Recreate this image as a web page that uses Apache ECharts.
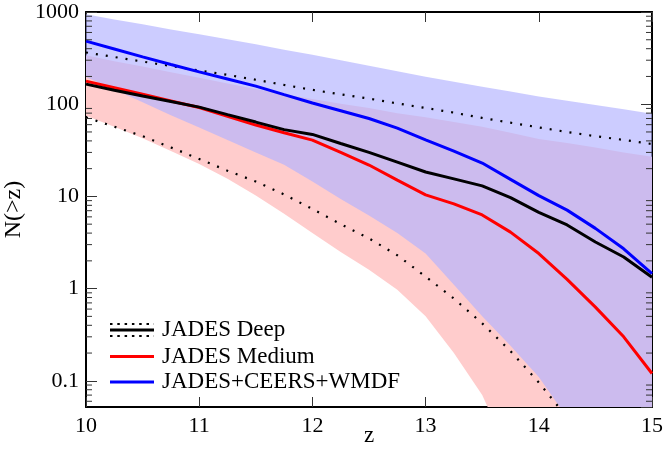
<!DOCTYPE html>
<html><head><meta charset="utf-8">
<script src="https://cdn.jsdelivr.net/npm/echarts@6/dist/echarts.min.js"></script>
<style>html,body{margin:0;padding:0;background:#fff}#c{width:666px;height:450px}</style>
</head><body><div id="c"></div>
<script>
// z grid shared by all curves and bands
const zGrid = [10,10.25,10.5,10.75,11,11.25,11.5,11.75,12,12.25,12.5,12.75,13,13.25,13.5,13.75,14,14.25,14.5,14.75,15];
// JADES Deep (black solid) and its range (black dotted)
const deepMid   = [165,142,123,107,93,77,64,53,47,37.5,30,23.5,18.4,15.5,13,9.7,6.7,4.9,3.2,2.2,1.33];
const deepUpper = [364,325,290,260,232,208,184,162,143,128,115,102,91,81,71,63,56,50,45,41,37];
const deepLower = [72,57,45,34,25.5,19,14.5,10.5,7.3,5.0,3.5,2.3,1.35,0.78,0.42,0.21,0.096,0.04,0.015,0.006,0.002];
// JADES Medium (red) and its band
const medMid = [178,151,128,108.5,92,74,59.4,49,40.8,30,21.9,15,10.4,8.3,6.3,4.1,2.4,1.26,0.63,0.30,0.12];
const medHi  = [340,292,256,222,194,168,146,128,114,101,91,80,72,64,57,49,42,38,34,30,27];
const medLo  = [75,57,42.7,31,22.4,15.5,10.2,6.5,4.0,2.5,1.6,0.97,0.5,0.2,0.07,0.015,0.003,0.002,0.002,0.002,0.002];
// JADES+CEERS+WMDF (blue) and its band
const wideMid = [483,397,326,270,224,188,157,127,103,85,70,55,41,31,23,15.3,10.2,7.1,4.5,2.7,1.45];
const wideHi  = [946,830,736,645,573,505,446,390,343,300,261,228,198,175,155,137,121,109,98,88,79];
const wideLo  = [197,144,105,76,56,41,30,22,14.5,9.4,6.2,4.0,2.4,1.1,0.5,0.24,0.11,0.04,0.015,0.006,0.003];
// axes
const xTicks = [10,11,12,13,14,15];
const yTickValues = [0.1,1,10,100,1000];
const yTickLabels = ['0.1','1','10','100','1000'];
const yMin = 0.052, yMax = 1000;
const minorTickValues = [];
for (let d = -2; d <= 2; d++) for (let m = 2; m <= 9; m++) {
  const v = +(m * Math.pow(10, d)).toPrecision(3);
  if (v >= yMin && v <= yMax) minorTickValues.push(v);
}
const legendNames = ['JADES Deep','JADES Medium','JADES+CEERS+WMDF'];

const pair = (ys) => zGrid.map((z, i) => [z, ys[i]]);
const FONT = '"Liberation Serif", "Times New Roman", serif';

function band(lo, hi, color, z) {
  return {
    type: 'custom', xAxisIndex: 0, yAxisIndex: 0, clip: true, silent: true, z: z,
    data: [[12, 1]],
    renderItem: (params, api) => {
      const pts = [];
      for (let i = 0; i < zGrid.length; i++) pts.push(api.coord([zGrid[i], hi[i]]));
      for (let i = zGrid.length - 1; i >= 0; i--) pts.push(api.coord([zGrid[i], lo[i]]));
      return { type: 'polygon', shape: { points: pts }, style: { fill: color } };
    }
  };
}

const chart = echarts.init(document.getElementById('c'), null, { renderer: 'canvas' });
const option = {
  animation: false,
  backgroundColor: '#fff',
  grid: { left: 86, right: 14, top: 12, bottom: 43, show: false, containLabel: false, outerBoundsMode: 'none' },
  xAxis: [{
    type: 'value', min: 10, max: 15, interval: 1, position: 'bottom',
    name: 'z', nameLocation: 'middle', nameGap: 17, nameMoveOverlap: false,
    nameTextStyle: { fontFamily: FONT, fontSize: 23, color: '#000' },
    axisLine: { show: true, lineStyle: { color: '#000', width: 2 } },
    axisTick: { show: true, inside: true, length: 10, lineStyle: { color: '#333', width: 1 } },
    axisLabel: { fontFamily: FONT, fontSize: 22, color: '#000', margin: 8,
      formatter: v => xTicks.includes(v) ? String(v) : '' },
    splitLine: { show: false }
  }, {
    type: 'value', min: 10, max: 15, interval: 1, position: 'top',
    axisLine: { show: true, lineStyle: { color: '#000', width: 2 } },
    axisTick: { show: true, inside: true, length: 10, lineStyle: { color: '#333', width: 1 } },
    axisLabel: { show: false }, splitLine: { show: false }
  }],
  yAxis: [{
    type: 'log', logBase: 10, min: yMin, max: yMax, position: 'left',
    name: 'N(>z)', nameLocation: 'middle', nameGap: 60, nameRotate: 90, nameMoveOverlap: false,
    nameTextStyle: { fontFamily: FONT, fontSize: 24, color: '#000' },
    axisLine: { show: true, lineStyle: { color: '#000', width: 2 } },
    axisTick: { show: true, inside: true, length: 11, lineStyle: { color: '#333', width: 1 } },
    axisLabel: { fontFamily: FONT, fontSize: 22, color: '#000', margin: 7, showMinLabel: false,
      formatter: v => { const i = yTickValues.findIndex(t => Math.abs(t - v) / t < 1e-6); return i >= 0 ? yTickLabels[i] : ''; } },
    splitLine: { show: false }
  }, {
    type: 'log', logBase: 10, min: yMin, max: yMax, position: 'right',
    axisLine: { show: true, lineStyle: { color: '#000', width: 2 } },
    axisTick: { show: true, inside: true, length: 11, lineStyle: { color: '#333', width: 1 } },
    axisLabel: { show: false }, splitLine: { show: false }
  }],
  series: [
    band(medLo, medHi, '#ffcccc', 1),
    band(wideLo, wideHi, 'rgba(178,178,255,0.667)', 2),
    {
      type: 'custom', xAxisIndex: 0, yAxisIndex: 0, silent: true, z: 10,
      data: minorTickValues.map(v => [10, v]),
      renderItem: (params, api) => {
        const v = api.value(1);
        const l = api.coord([10, v]), r = api.coord([15, v]);
        return { type: 'group', children: [
          { type: 'line', shape: { x1: l[0], y1: l[1], x2: l[0] + 6, y2: l[1] }, style: { stroke: '#333', lineWidth: 1 } },
          { type: 'line', shape: { x1: r[0], y1: r[1], x2: r[0] - 6, y2: r[1] }, style: { stroke: '#333', lineWidth: 1 } }
        ] };
      }
    },
    { name: legendNames[0] + ' upper', type: 'line', data: pair(deepUpper), showSymbol: false, z: 5,
      lineStyle: { color: '#000', width: 2.2, type: [2, 8], cap: 'butt' } },
    { name: legendNames[0] + ' lower', type: 'line', data: pair(deepLower), showSymbol: false, z: 5,
      lineStyle: { color: '#000', width: 2.2, type: [2, 8], cap: 'butt' } },
    { name: legendNames[2], type: 'line', data: pair(wideMid), showSymbol: false, z: 6,
      lineStyle: { color: '#0000ff', width: 3 } },
    { name: legendNames[1], type: 'line', data: pair(medMid), showSymbol: false, z: 7,
      lineStyle: { color: '#ff0000', width: 3 } },
    { name: legendNames[0], type: 'line', data: pair(deepMid), showSymbol: false, z: 8,
      lineStyle: { color: '#000', width: 3 } }
  ],
  graphic: [
    { type: 'line', shape: { x1: 110, y1: 324, x2: 154, y2: 324 }, style: { stroke: '#000', lineWidth: 2.2, lineDash: [2.5, 4.8] } },
    { type: 'line', shape: { x1: 110, y1: 330, x2: 154, y2: 330 }, style: { stroke: '#000', lineWidth: 3 } },
    { type: 'line', shape: { x1: 110, y1: 336, x2: 154, y2: 336 }, style: { stroke: '#000', lineWidth: 2.2, lineDash: [2.5, 4.8] } },
    { type: 'text', x: 162, y: 330, style: { text: legendNames[0], font: '23px ' + FONT, fill: '#000', verticalAlign: 'middle' } },
    { type: 'line', shape: { x1: 110, y1: 356.5, x2: 154, y2: 356.5 }, style: { stroke: '#ff0000', lineWidth: 3 } },
    { type: 'text', x: 162, y: 356.5, style: { text: legendNames[1], font: '23px ' + FONT, fill: '#000', verticalAlign: 'middle' } },
    { type: 'line', shape: { x1: 110, y1: 382, x2: 154, y2: 382 }, style: { stroke: '#0000ff', lineWidth: 3 } },
    { type: 'text', x: 162, y: 382, style: { text: legendNames[2], font: '23px ' + FONT, fill: '#000', verticalAlign: 'middle' } }
  ]
};
chart.setOption(option);
</script>
</body></html>
